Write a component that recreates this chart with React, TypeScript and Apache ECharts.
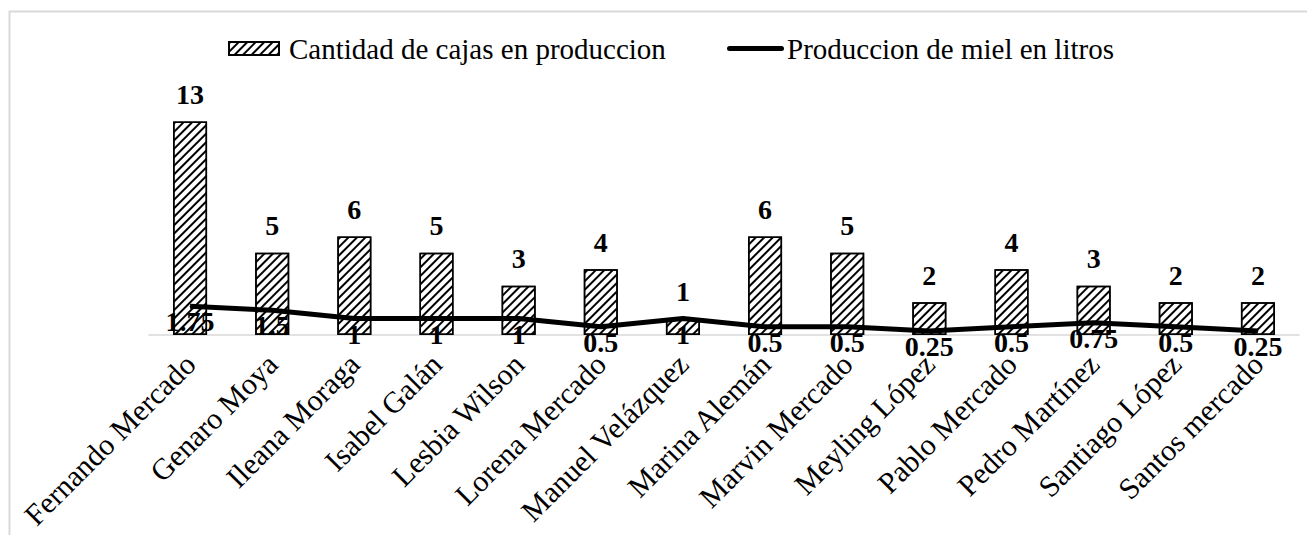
import React, { useEffect, useRef } from "react";
import * as echarts from "echarts";

const categories = [
  "Fernando Mercado",
  "Genaro Moya",
  "Ileana Moraga",
  "Isabel Galán",
  "Lesbia Wilson",
  "Lorena Mercado",
  "Manuel Velázquez",
  "Marina Alemán",
  "Marvin Mercado",
  "Meyling López",
  "Pablo Mercado",
  "Pedro Martínez",
  "Santiago López",
  "Santos mercado",
];
const cajas = [13, 5, 6, 5, 3, 4, 1, 6, 5, 2, 4, 3, 2, 2];
const miel = [1.75, 1.5, 1, 1, 1, 0.5, 1, 0.5, 0.5, 0.25, 0.5, 0.75, 0.5, 0.25];
const seriesNames = ["Cantidad de cajas en produccion", "Produccion de miel en litros"];

const FONT = "Liberation Serif";

export default function App() {
  const ref = useRef<HTMLDivElement>(null);
  useEffect(() => {
    if (!ref.current) return;
    const chart = echarts.init(ref.current, undefined, { renderer: "svg" });
    const hatch = {
      symbol: "rect",
      symbolSize: 1,
      dashArrayX: [1, 0],
      dashArrayY: [1.4, 3.2],
      rotation: -Math.PI / 4,
      color: "#000",
      backgroundColor: "#fff",
    };
    const legendText = { fontFamily: FONT, fontSize: 29, color: "#000" };
    const lineData = miel.map((v, i) =>
      i === 0 ? { value: v, label: { offset: [-16, 0] } } : v
    );
    chart.setOption({
      animation: false,
      backgroundColor: "#fff",
      textStyle: { fontFamily: FONT, color: "#000" },
      graphic: [
        {
          type: "rect",
          shape: { x: 1.5, y: 3.5, width: 1400, height: 1000 },
          style: { fill: "none", stroke: "#d9d9d9", lineWidth: 2 },
          silent: true,
        },
      ],
      legend: [
        {
          top: 26,
          left: 220,
          padding: 0,
          itemWidth: 50,
          itemHeight: 13,
          textStyle: { ...legendText, padding: [0, 0, 0, 5] },
          data: [{ name: seriesNames[0], icon: "rect" }],
        },
        {
          top: 26,
          left: 719,
          padding: 0,
          itemWidth: 57,
          itemHeight: 13,
          textStyle: { ...legendText, padding: [0, 0, 0, -2] },
          data: [
            {
              name: seriesNames[1],
              icon: "path://M2.5,0 L54.5,0 A2.5,2.5 0 0 1 54.5,5 L2.5,5 A2.5,2.5 0 0 1 2.5,0 Z",
              itemStyle: { color: "#000" },
            },
          ],
        },
      ],
      grid: { left: 141, right: 8, top: 97, bottom: 200, containLabel: false },
      xAxis: {
        type: "category",
        data: categories,
        axisLine: { lineStyle: { color: "#d9d9d9", width: 1.5 } },
        axisTick: { show: false },
        axisLabel: {
          interval: 0,
          rotate: 45,
          margin: 24,
          fontFamily: FONT,
          fontSize: 30,
          color: "#000",
        },
      },
      yAxis: {
        type: "value",
        min: 0,
        max: 14,
        show: false,
        splitLine: { show: false },
      },
      series: [
        {
          name: seriesNames[0],
          type: "bar",
          data: cajas,
          barWidth: 34,
          itemStyle: { color: "#fff", borderColor: "#000", borderWidth: 1.5, decal: hatch },
          label: {
            show: true,
            position: "top",
            distance: 13,
            fontFamily: FONT,
            fontSize: 28,
            fontWeight: "bold",
            color: "#000",
          },
        },
        {
          name: seriesNames[1],
          type: "line",
          data: lineData,
          symbol: "circle",
          symbolSize: 1,
          showSymbol: true,
          lineStyle: { color: "#000", width: 5 },
          itemStyle: { color: "#000" },
          labelLayout: { hideOverlap: false },
          label: {
            show: true,
            position: "bottom",
            distance: 1,
            offset: [-4, 0],
            fontFamily: FONT,
            fontSize: 28,
            fontWeight: "bold",
            color: "#000",
          },
        },
      ],
    });
    return () => chart.dispose();
  }, []);
  return <div ref={ref} style={{ width: 1299, height: 527 }} />;
}
